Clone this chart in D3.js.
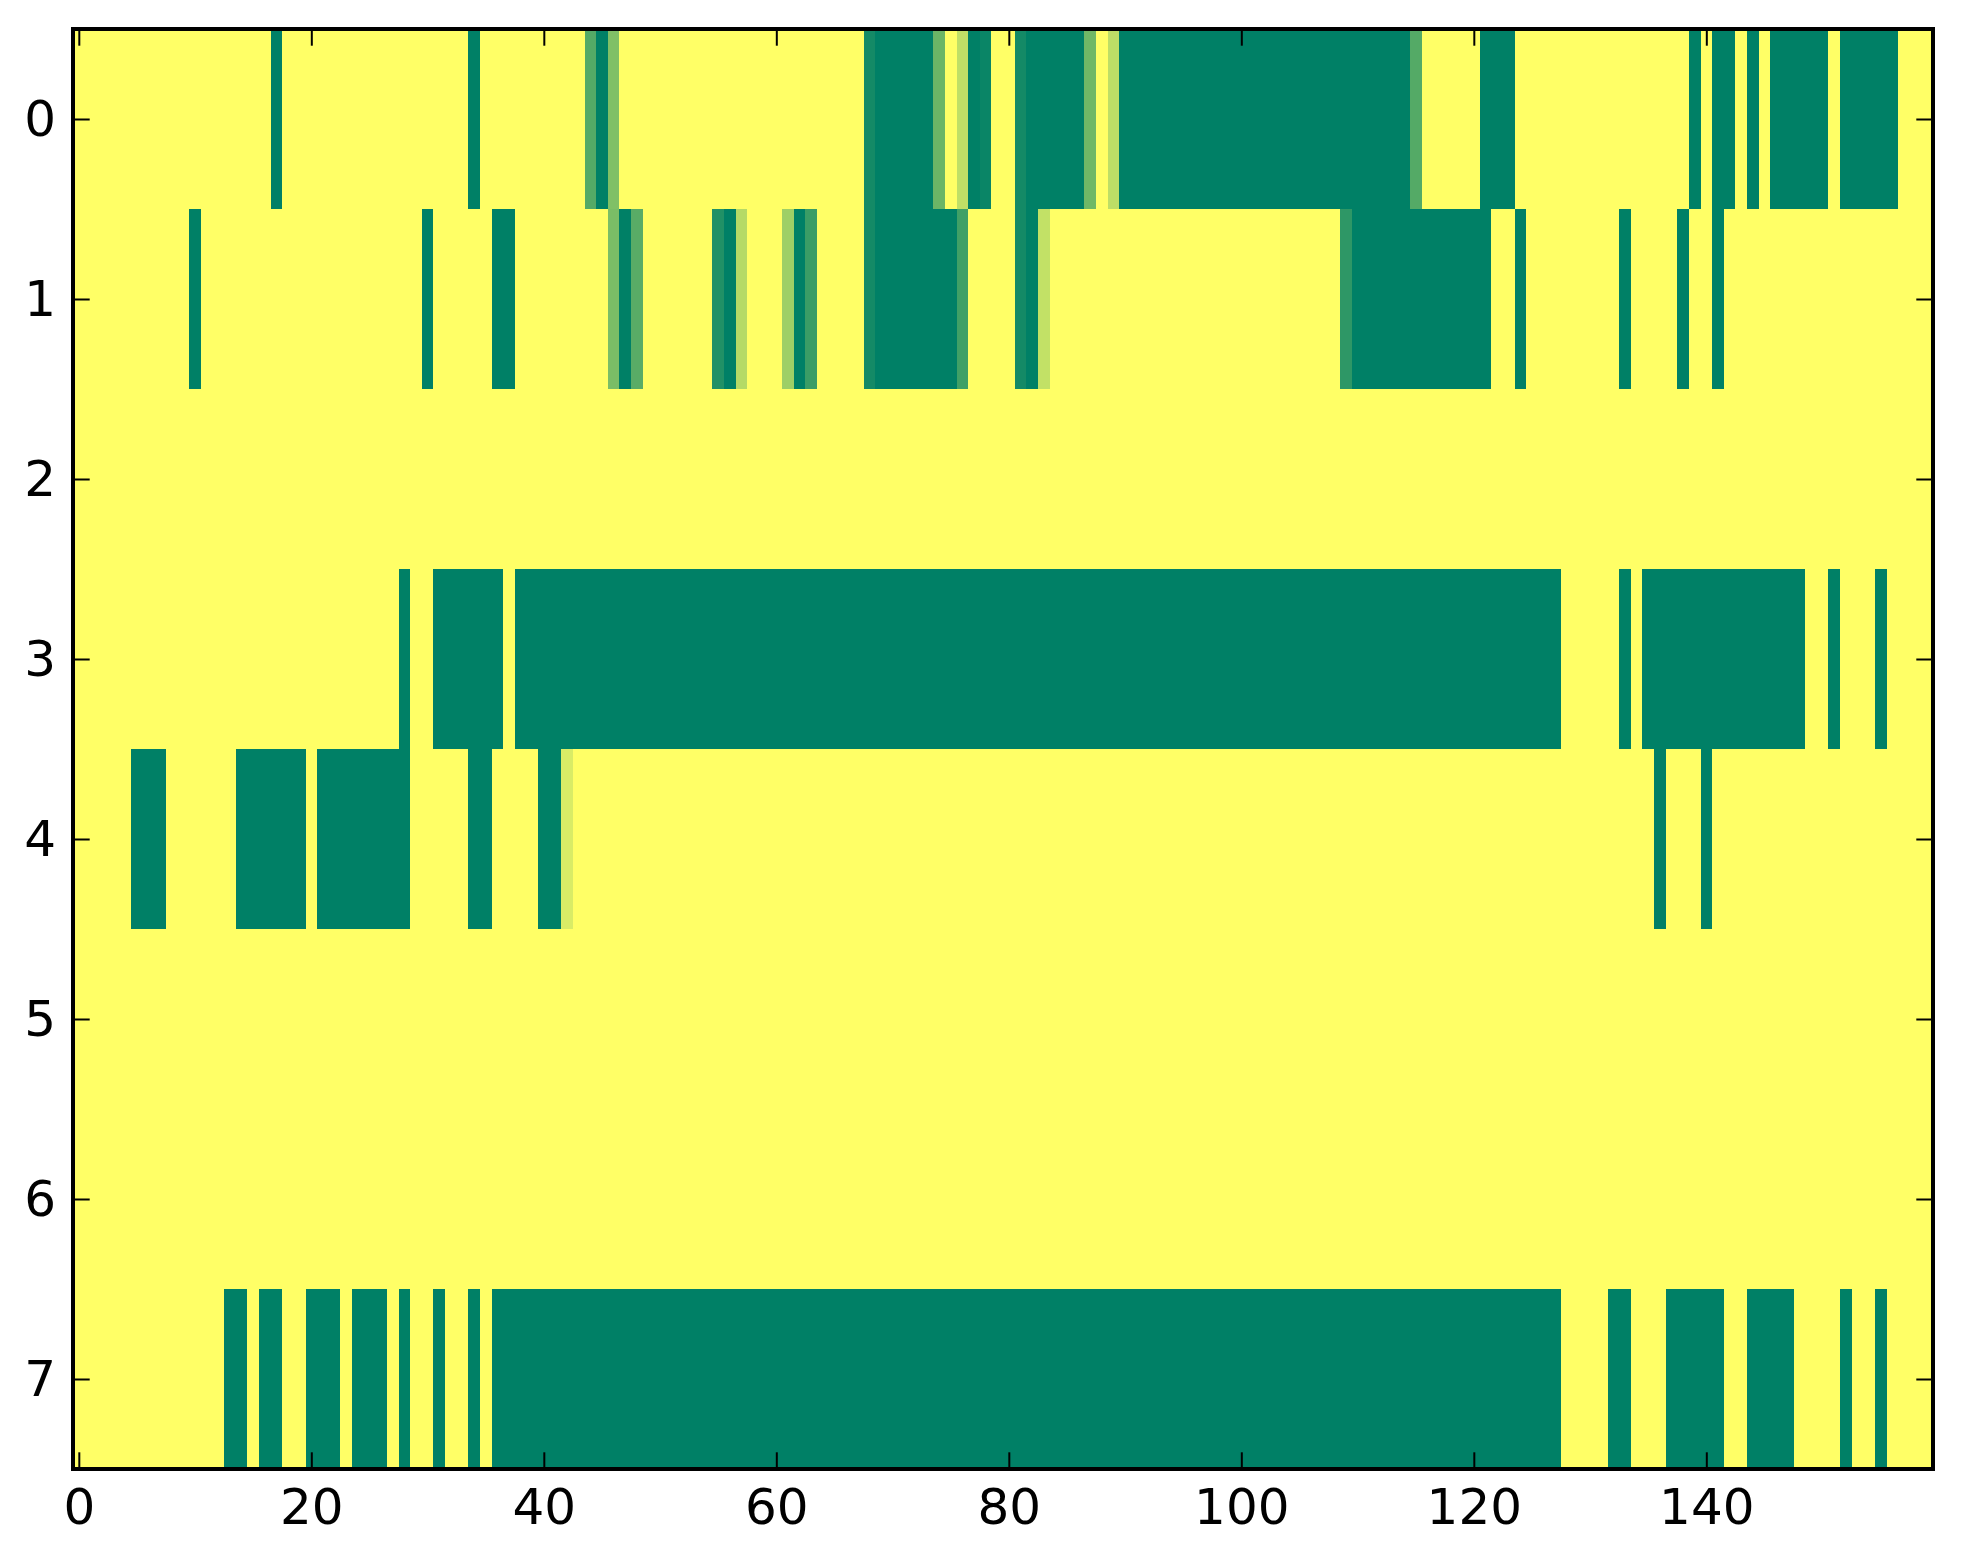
<!DOCTYPE html>
<html>
<head>
<meta charset="utf-8">
<script src="https://cdn.jsdelivr.net/npm/d3@7"></script>
<style>
  html, body { margin: 0; padding: 0; background: #fff; }
  svg { display: block; }
  .tick text { font-family: "DejaVu Sans", sans-serif; font-size: 50px; fill: #000; }
</style>
</head>
<body>
<div id="chart"></div>
<script>
// Cell values, one array per image row (0 = green, 1 = yellow, summer colormap)
const row0 = [
  1,1,1,1,1,1,1,1,1,1,1,1,1,1,1,1,1,0,1,1,
  1,1,1,1,1,1,1,1,1,1,1,1,1,1,0,1,1,1,1,1,
  1,1,1,1,0.33,0,0.5,1,1,1,1,1,1,1,1,1,1,1,1,1,
  1,1,1,1,1,1,1,1,0.08,0,0,0,0,0,0.42,1,0.75,0,0.04,1,
  1,0.08,0,0,0,0,0,0.44,1,0.74,0,0,0,0,0,0,0,0,0,0,
  0,0,0,0,0,0,0,0,0,0,0,0,0,0,0,0.33,1,1,1,1,
  1,0,0,0,1,1,1,1,1,1,1,1,1,1,1,1,1,1,1,0,
  1,0,0,1,0,1,0,0,0,0,0,1,0,0,0,0,0,1,1,1
];
const row1 = [
  1,1,1,1,1,1,1,1,1,1,0,1,1,1,1,1,1,1,1,1,
  1,1,1,1,1,1,1,1,1,1,0,1,1,1,1,1,0,0,1,1,
  1,1,1,1,1,1,0.48,0,0.35,1,1,1,1,1,1,0.13,0,0.71,1,1,
  1,0.62,0,0.23,1,1,1,1,0.08,0,0,0,0,0,0,0,0.25,1,1,1,
  1,0.08,0,0.76,1,1,1,1,1,1,1,1,1,1,1,1,1,1,1,1,
  1,1,1,1,1,1,1,1,1,0.18,0,0,0,0,0,0,0,0,0,0,
  0,0,1,1,0,1,1,1,1,1,1,1,1,0,1,1,1,1,0,1,
  1,0,1,1,1,1,1,1,1,1,1,1,1,1,1,1,1,1,1,1
];
const row2 = [
  1,1,1,1,1,1,1,1,1,1,1,1,1,1,1,1,1,1,1,1,
  1,1,1,1,1,1,1,1,1,1,1,1,1,1,1,1,1,1,1,1,
  1,1,1,1,1,1,1,1,1,1,1,1,1,1,1,1,1,1,1,1,
  1,1,1,1,1,1,1,1,1,1,1,1,1,1,1,1,1,1,1,1,
  1,1,1,1,1,1,1,1,1,1,1,1,1,1,1,1,1,1,1,1,
  1,1,1,1,1,1,1,1,1,1,1,1,1,1,1,1,1,1,1,1,
  1,1,1,1,1,1,1,1,1,1,1,1,1,1,1,1,1,1,1,1,
  1,1,1,1,1,1,1,1,1,1,1,1,1,1,1,1,1,1,1,1
];
const row3 = [
  1,1,1,1,1,1,1,1,1,1,1,1,1,1,1,1,1,1,1,1,
  1,1,1,1,1,1,1,1,0,1,1,0,0,0,0,0,0,1,0,0,
  0,0,0,0,0,0,0,0,0,0,0,0,0,0,0,0,0,0,0,0,
  0,0,0,0,0,0,0,0,0,0,0,0,0,0,0,0,0,0,0,0,
  0,0,0,0,0,0,0,0,0,0,0,0,0,0,0,0,0,0,0,0,
  0,0,0,0,0,0,0,0,0,0,0,0,0,0,0,0,0,0,0,0,
  0,0,0,0,0,0,0,0,1,1,1,1,1,0,1,0,0,0,0,0,
  0,0,0,0,0,0,0,0,0,1,1,0,1,1,1,0,1,1,1,1
];
const row4 = [
  1,1,1,1,1,0,0,0,1,1,1,1,1,1,0,0,0,0,0,0,
  1,0,0,0,0,0,0,0,0,1,1,1,1,1,0,0,1,1,1,1,
  0,0,0.85,1,1,1,1,1,1,1,1,1,1,1,1,1,1,1,1,1,
  1,1,1,1,1,1,1,1,1,1,1,1,1,1,1,1,1,1,1,1,
  1,1,1,1,1,1,1,1,1,1,1,1,1,1,1,1,1,1,1,1,
  1,1,1,1,1,1,1,1,1,1,1,1,1,1,1,1,1,1,1,1,
  1,1,1,1,1,1,1,1,1,1,1,1,1,1,1,1,0,1,1,1,
  0,1,1,1,1,1,1,1,1,1,1,1,1,1,1,1,1,1,1,1
];
const row5 = [
  1,1,1,1,1,1,1,1,1,1,1,1,1,1,1,1,1,1,1,1,
  1,1,1,1,1,1,1,1,1,1,1,1,1,1,1,1,1,1,1,1,
  1,1,1,1,1,1,1,1,1,1,1,1,1,1,1,1,1,1,1,1,
  1,1,1,1,1,1,1,1,1,1,1,1,1,1,1,1,1,1,1,1,
  1,1,1,1,1,1,1,1,1,1,1,1,1,1,1,1,1,1,1,1,
  1,1,1,1,1,1,1,1,1,1,1,1,1,1,1,1,1,1,1,1,
  1,1,1,1,1,1,1,1,1,1,1,1,1,1,1,1,1,1,1,1,
  1,1,1,1,1,1,1,1,1,1,1,1,1,1,1,1,1,1,1,1
];
const row6 = [
  1,1,1,1,1,1,1,1,1,1,1,1,1,1,1,1,1,1,1,1,
  1,1,1,1,1,1,1,1,1,1,1,1,1,1,1,1,1,1,1,1,
  1,1,1,1,1,1,1,1,1,1,1,1,1,1,1,1,1,1,1,1,
  1,1,1,1,1,1,1,1,1,1,1,1,1,1,1,1,1,1,1,1,
  1,1,1,1,1,1,1,1,1,1,1,1,1,1,1,1,1,1,1,1,
  1,1,1,1,1,1,1,1,1,1,1,1,1,1,1,1,1,1,1,1,
  1,1,1,1,1,1,1,1,1,1,1,1,1,1,1,1,1,1,1,1,
  1,1,1,1,1,1,1,1,1,1,1,1,1,1,1,1,1,1,1,1
];
const row7 = [
  1,1,1,1,1,1,1,1,1,1,1,1,1,0,0,1,0,0,1,1,
  0,0,0,1,0,0,0,1,0,1,1,0,1,1,0,1,0,0,0,0,
  0,0,0,0,0,0,0,0,0,0,0,0,0,0,0,0,0,0,0,0,
  0,0,0,0,0,0,0,0,0,0,0,0,0,0,0,0,0,0,0,0,
  0,0,0,0,0,0,0,0,0,0,0,0,0,0,0,0,0,0,0,0,
  0,0,0,0,0,0,0,0,0,0,0,0,0,0,0,0,0,0,0,0,
  0,0,0,0,0,0,0,0,1,1,1,1,0,0,1,1,1,0,0,0,
  0,0,1,1,0,0,0,0,1,1,1,1,0,1,1,0,1,1,1,1
];
const rows = [row0, row1, row2, row3, row4, row5, row6, row7];

const xTicks = [0, 20, 40, 60, 80, 100, 120, 140];
const yTicks = [0, 1, 2, 3, 4, 5, 6, 7];

const W = 1963, H = 1564;
const margin = { top: 29, right: 30, bottom: 95, left: 73 };
const nCols = row0.length;
const nRows = rows.length;

const svg = d3.select('#chart').append('svg')
    .attr('width', W)
    .attr('height', H);

const x = d3.scaleLinear()
    .domain([-0.5, nCols - 0.5])
    .range([margin.left, W - margin.right]);

const y = d3.scaleLinear()
    .domain([-0.5, nRows - 0.5])
    .range([margin.top, H - margin.bottom]);

// matplotlib "summer": (0, 0.5, 0.4) -> (1, 1, 0.4)
const color = d3.scaleLinear()
    .domain([0, 1])
    .range(['#008066', '#ffff66'])
    .interpolate(d3.interpolateRgb);

const cells = [];
rows.forEach((r, i) => r.forEach((v, j) => cells.push({ row: i, col: j, value: v })));

svg.append('g')
    .attr('shape-rendering', 'crispEdges')
    .selectAll('rect')
    .data(cells)
    .enter()
    .append('rect')
    .attr('x', d => x(d.col - 0.5))
    .attr('y', d => y(d.row - 0.5))
    .attr('width', d => x(d.col + 0.5) - x(d.col - 0.5) + 0.5)
    .attr('height', d => y(d.row + 0.5) - y(d.row - 0.5) + 0.5)
    .attr('fill', d => color(d.value));

const tickLen = 16.7;
const [x0, x1] = x.range();
const [y0, y1] = y.range();

function styleAxis(g) {
    g.select('.domain').remove();
    g.selectAll('.tick line').attr('stroke', '#000').attr('stroke-width', 2);
}

// bottom axis with labels, ticks pointing inward
svg.append('g')
    .attr('transform', `translate(0,${y1})`)
    .call(d3.axisBottom(x).tickValues(xTicks).tickFormat(d3.format('d'))
        .tickSizeInner(-tickLen).tickSizeOuter(0).tickPadding(19))
    .call(styleAxis)
    .selectAll('text').attr('font-family', null).attr('font-size', null);

// top axis, ticks only
svg.append('g')
    .attr('transform', `translate(0,${y0})`)
    .call(d3.axisTop(x).tickValues(xTicks).tickFormat('')
        .tickSizeInner(-tickLen).tickSizeOuter(0))
    .call(styleAxis);

// left axis with labels
svg.append('g')
    .attr('transform', `translate(${x0},0)`)
    .call(d3.axisLeft(y).tickValues(yTicks).tickFormat(d3.format('d'))
        .tickSizeInner(-tickLen).tickSizeOuter(0).tickPadding(17))
    .call(styleAxis)
    .selectAll('text').attr('font-family', null).attr('font-size', null);

// right axis, ticks only
svg.append('g')
    .attr('transform', `translate(${x1},0)`)
    .call(d3.axisRight(y).tickValues(yTicks).tickFormat('')
        .tickSizeInner(-tickLen).tickSizeOuter(0))
    .call(styleAxis);

// frame
svg.append('rect')
    .attr('x', x0)
    .attr('y', y0)
    .attr('width', x1 - x0)
    .attr('height', y1 - y0)
    .attr('fill', 'none')
    .attr('stroke', '#000')
    .attr('stroke-width', 4);
</script>
</body>
</html>
